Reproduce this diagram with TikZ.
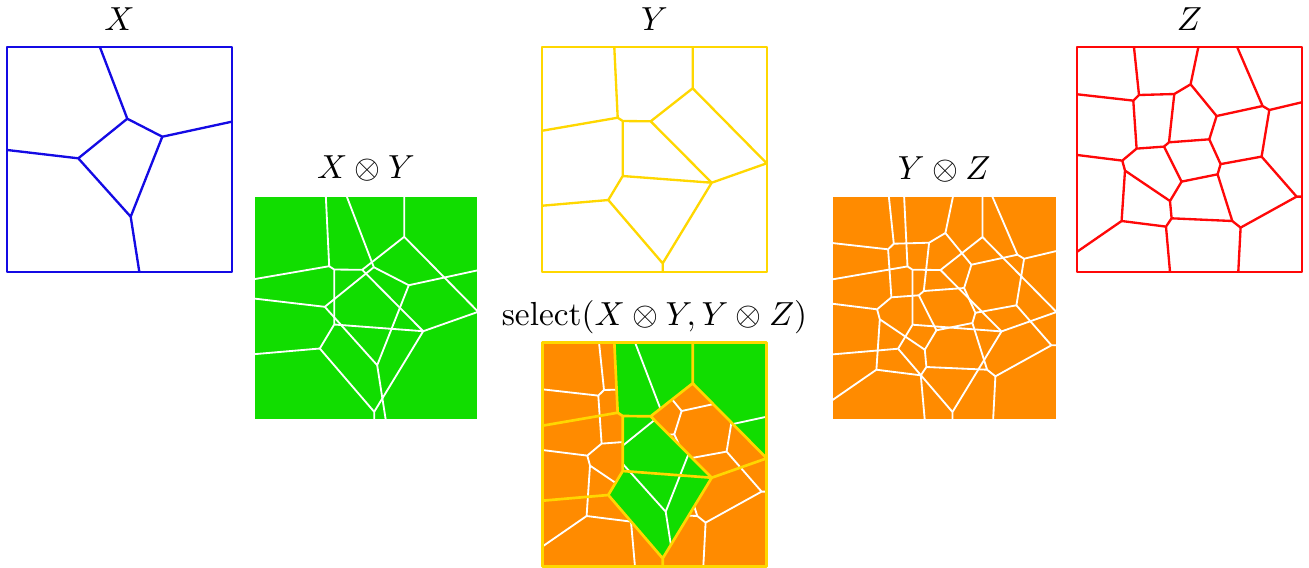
\documentclass[tikz,border=0pt]{standalone}
\definecolor{xblue}{RGB}{20,10,228}
\definecolor{yyel}{RGB}{255,215,0}
\definecolor{zred}{RGB}{255,8,8}
\definecolor{grn}{RGB}{17,221,0}
\definecolor{orng}{RGB}{255,139,0}
\newcommand\XEdges[1]{\draw[#1] (92.7,0)--(120,71.4)--(155,89.4)--(224.4,74.4)
  (120,71.4)--(71,111)--(0,102.7)
  (71,111)--(123.4,169.4)--(155,89.4)
  (123.4,169.4)--(132,224.4);}
\newcommand\YEdges[1]{\draw[#1] (72,0)--(75.4,70.4)--(0,83.4)
  (75.4,70.4)--(80.4,73.7)--(108.4,74)--(150.4,41)--(150.4,0)
  (150.4,41)--(224.4,116)--(169.4,135.4)--(108.4,74)
  (80.4,73.7)--(80.4,128.7)--(169.4,135.4)
  (80.4,128.7)--(66,152.7)--(0,158.4)
  (66,152.7)--(120.4,216)--(169.4,135.4)
  (120.4,216)--(120.4,224.4);}
\newcommand\ZEdges[1]{\draw[#1] (56.7,0)--(61.7,47.7)--(56,53.3)--(0,47)
  (56,53.3)--(59.3,101.3)
  (61.7,47.7)--(97,46.7)--(113.3,37)--(121,0)
  (97,46.7)--(91.7,95)--(86.7,99.3)--(59.3,101.3)--(45,113.3)--(0,107.7)
  (113.3,37)--(139.3,68.7)--(185.3,58.7)--(160,0)
  (185.3,58.7)--(192,62.7)--(224.4,55)
  (192,62.7)--(184.3,109.3)--(143.3,116.8)--(132,92)--(139.3,68.7)
  (132,92)--(91.7,95)
  (86.7,99.3)--(104.3,134.3)--(140.3,127)--(143.3,116.8)
  (184.3,109.3)--(219.3,149.3)--(224.4,149.3)
  (45,113.3)--(47.7,123.3)--(92.7,153.7)--(104.3,134.3)
  (92.7,153.7)--(94.3,171)--(88.7,179.3)--(44.3,173.7)--(47.7,123.3)
  (44.3,173.7)--(0,204.3)
  (88.7,179.3)--(92.7,224.4)
  (94.3,171)--(155,173.7)--(140.3,127)
  (155,173.7)--(163.3,180.3)--(219.3,149.3)
  (163.3,180.3)--(161,224.4);}
\newcommand\CellsPath[1]{\path[#1] (72,0)--(150.4,0)--(150.4,41)--(108.4,74)--(80.4,73.7)--(75.4,70.4)--cycle
  (150.4,0)--(224.4,0)--(224.4,116)--(150.4,41)--cycle
  (80.4,73.7)--(108.4,74)--(169.4,135.4)--(80.4,128.7)--cycle
  (80.4,128.7)--(169.4,135.4)--(120.4,216)--(66,152.7)--cycle;}
\begin{document}
\begin{tikzpicture}[x=0.3pt,y=-0.3pt,
  outl/.style={line width=0.7pt, line join=round},
  wl/.style={white, line width=0.55pt, line join=round},
  yl/.style={yyel, line width=0.8pt, line join=round},
  lbl/.style={anchor=base, inner sep=0pt}]
\useasboundingbox (0,0) rectangle (1309,567);
% X
\begin{scope}[shift={(7.3,47.3)}]
  \XEdges{outl, xblue}
  \draw[outl, xblue] (0,0) rectangle (224.4,224.4);
  \node[lbl] (lx) at (112.2,-17) {$X$};
\end{scope}
% Y
\begin{scope}[shift={(542.3,47.3)}]
  \YEdges{outl, yyel}
  \draw[outl, yyel] (0,0) rectangle (224.4,224.4);
  \node[lbl] (ly) at (112.2,-17) {$Y$};
\end{scope}
% Z
\begin{scope}[shift={(1077.3,47.3)}]
  \ZEdges{outl, zred}
  \draw[outl, zred] (0,0) rectangle (224.4,224.4);
  \node[lbl] (lz) at (112.2,-17) {$Z$};
\end{scope}
% X (x) Y
\begin{scope}[shift={(253.8,195.8)}]
  \fill[grn] (0,0) rectangle (224.4,224.4);
  \XEdges{wl}
  \YEdges{wl}
  \draw[white, line width=0.55pt] (0,0) rectangle (224.4,224.4);
  \node[lbl] (lxy) at (112.2,-17) {$X\otimes Y$};
\end{scope}
% Y (x) Z
\begin{scope}[shift={(832.1,196)}]
  \fill[orng] (0,0) rectangle (224.4,224.4);
  \YEdges{wl}
  \ZEdges{wl}
  \draw[white, line width=0.55pt] (0,0) rectangle (224.4,224.4);
  \node[lbl] (lyz) at (112.2,-17) {$Y\otimes Z$};
\end{scope}
% select
\begin{scope}[shift={(542.3,342.3)}]
  \fill[orng] (0,0) rectangle (224.4,224.4);
  \ZEdges{wl}
  \CellsPath{fill=grn}
  \begin{scope}
    \CellsPath{clip}
    \XEdges{wl}
  \end{scope}
  \YEdges{yl}
  \draw[yl] (0,0) rectangle (224.4,224.4);
  \node[lbl] (ls) at (112.2,-17) {select$(X\otimes Y,Y\otimes Z)$};
\end{scope}
\end{tikzpicture}
\end{document}
